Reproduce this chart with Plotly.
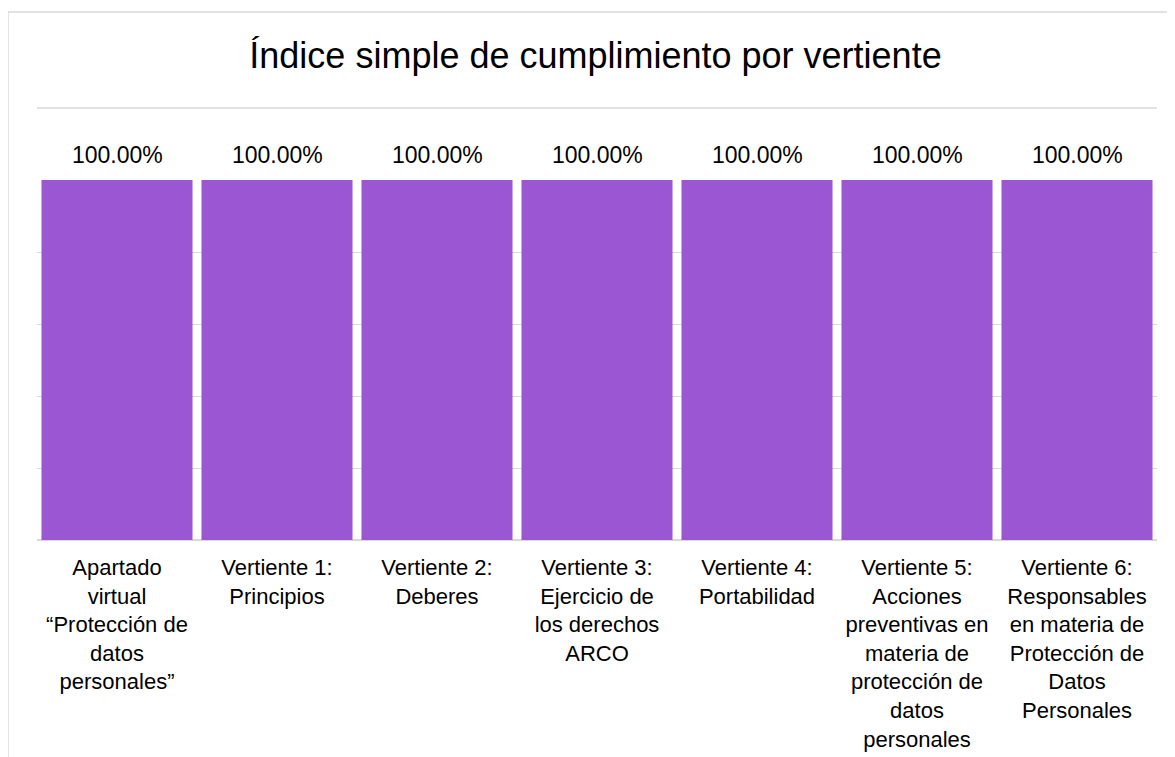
import plotly.graph_objects as go

categorias = [
    "Apartado<br>virtual<br>“Protección de<br>datos<br>personales”",
    "Vertiente 1:<br>Principios",
    "Vertiente 2:<br>Deberes",
    "Vertiente 3:<br>Ejercicio de<br>los derechos<br>ARCO",
    "Vertiente 4:<br>Portabilidad",
    "Vertiente 5:<br>Acciones<br>preventivas en<br>materia de<br>protección de<br>datos<br>personales",
    "Vertiente 6:<br>Responsables<br>en materia de<br>Protección de<br>Datos<br>Personales",
]
indice = [1.0, 1.0, 1.0, 1.0, 1.0, 1.0, 1.0]
etiquetas = ["100.00%"] * len(indice)

fuente = "Liberation Sans, Arial, sans-serif"
posiciones = list(range(len(categorias)))

fig = go.Figure()
fig.add_trace(go.Bar(x=posiciones, y=indice,
                     marker=dict(color="#9B57D3", line=dict(width=0)),
                     hoverinfo="y"))

# etiquetas de valor sobre cada barra
for xi, yi, txt in zip(posiciones, indice, etiquetas):
    fig.add_annotation(x=xi, y=yi, text=txt, showarrow=False,
                       yanchor="bottom", yshift=10,
                       font=dict(size=23, color="#000000", family=fuente))

fig.update_layout(
    width=1175, height=757,
    margin=dict(l=29, r=26, t=172, b=225),
    paper_bgcolor="white", plot_bgcolor="white",
    font=dict(family=fuente, color="#000000"),
    bargap=0.056,
    showlegend=False,
    title=dict(text="Índice simple de cumplimiento por vertiente",
               x=0.5, xanchor="center", y=0.938, yanchor="middle",
               font=dict(size=36, color="#000000", family=fuente)),
    xaxis=dict(tickvals=posiciones, ticktext=categorias,
               tickfont=dict(size=22, color="#000000"),
               showgrid=False, zeroline=False, showline=False,
               ticks="", range=[-0.5, 6.5], ticklabelstandoff=12),
    yaxis=dict(range=[0, 1], dtick=0.2, showticklabels=False,
               gridcolor="#D9D9D9", gridwidth=1, zeroline=True,
               zerolinecolor="#D9D9D9", zerolinewidth=1.5, showline=False),
    shapes=[
        dict(type="line", xref="paper", yref="paper", x0=0, x1=1,
             y0=1.2, y1=1.2, line=dict(color="#D9D9D9", width=1.5)),
        dict(type="rect", xref="paper", yref="paper", x0=-0.0259, x1=1.05,
             y0=-0.7, y1=1.4667, line=dict(color="#D9D9D9", width=1.5)),
    ],
)

fig.write_html("out.html")
